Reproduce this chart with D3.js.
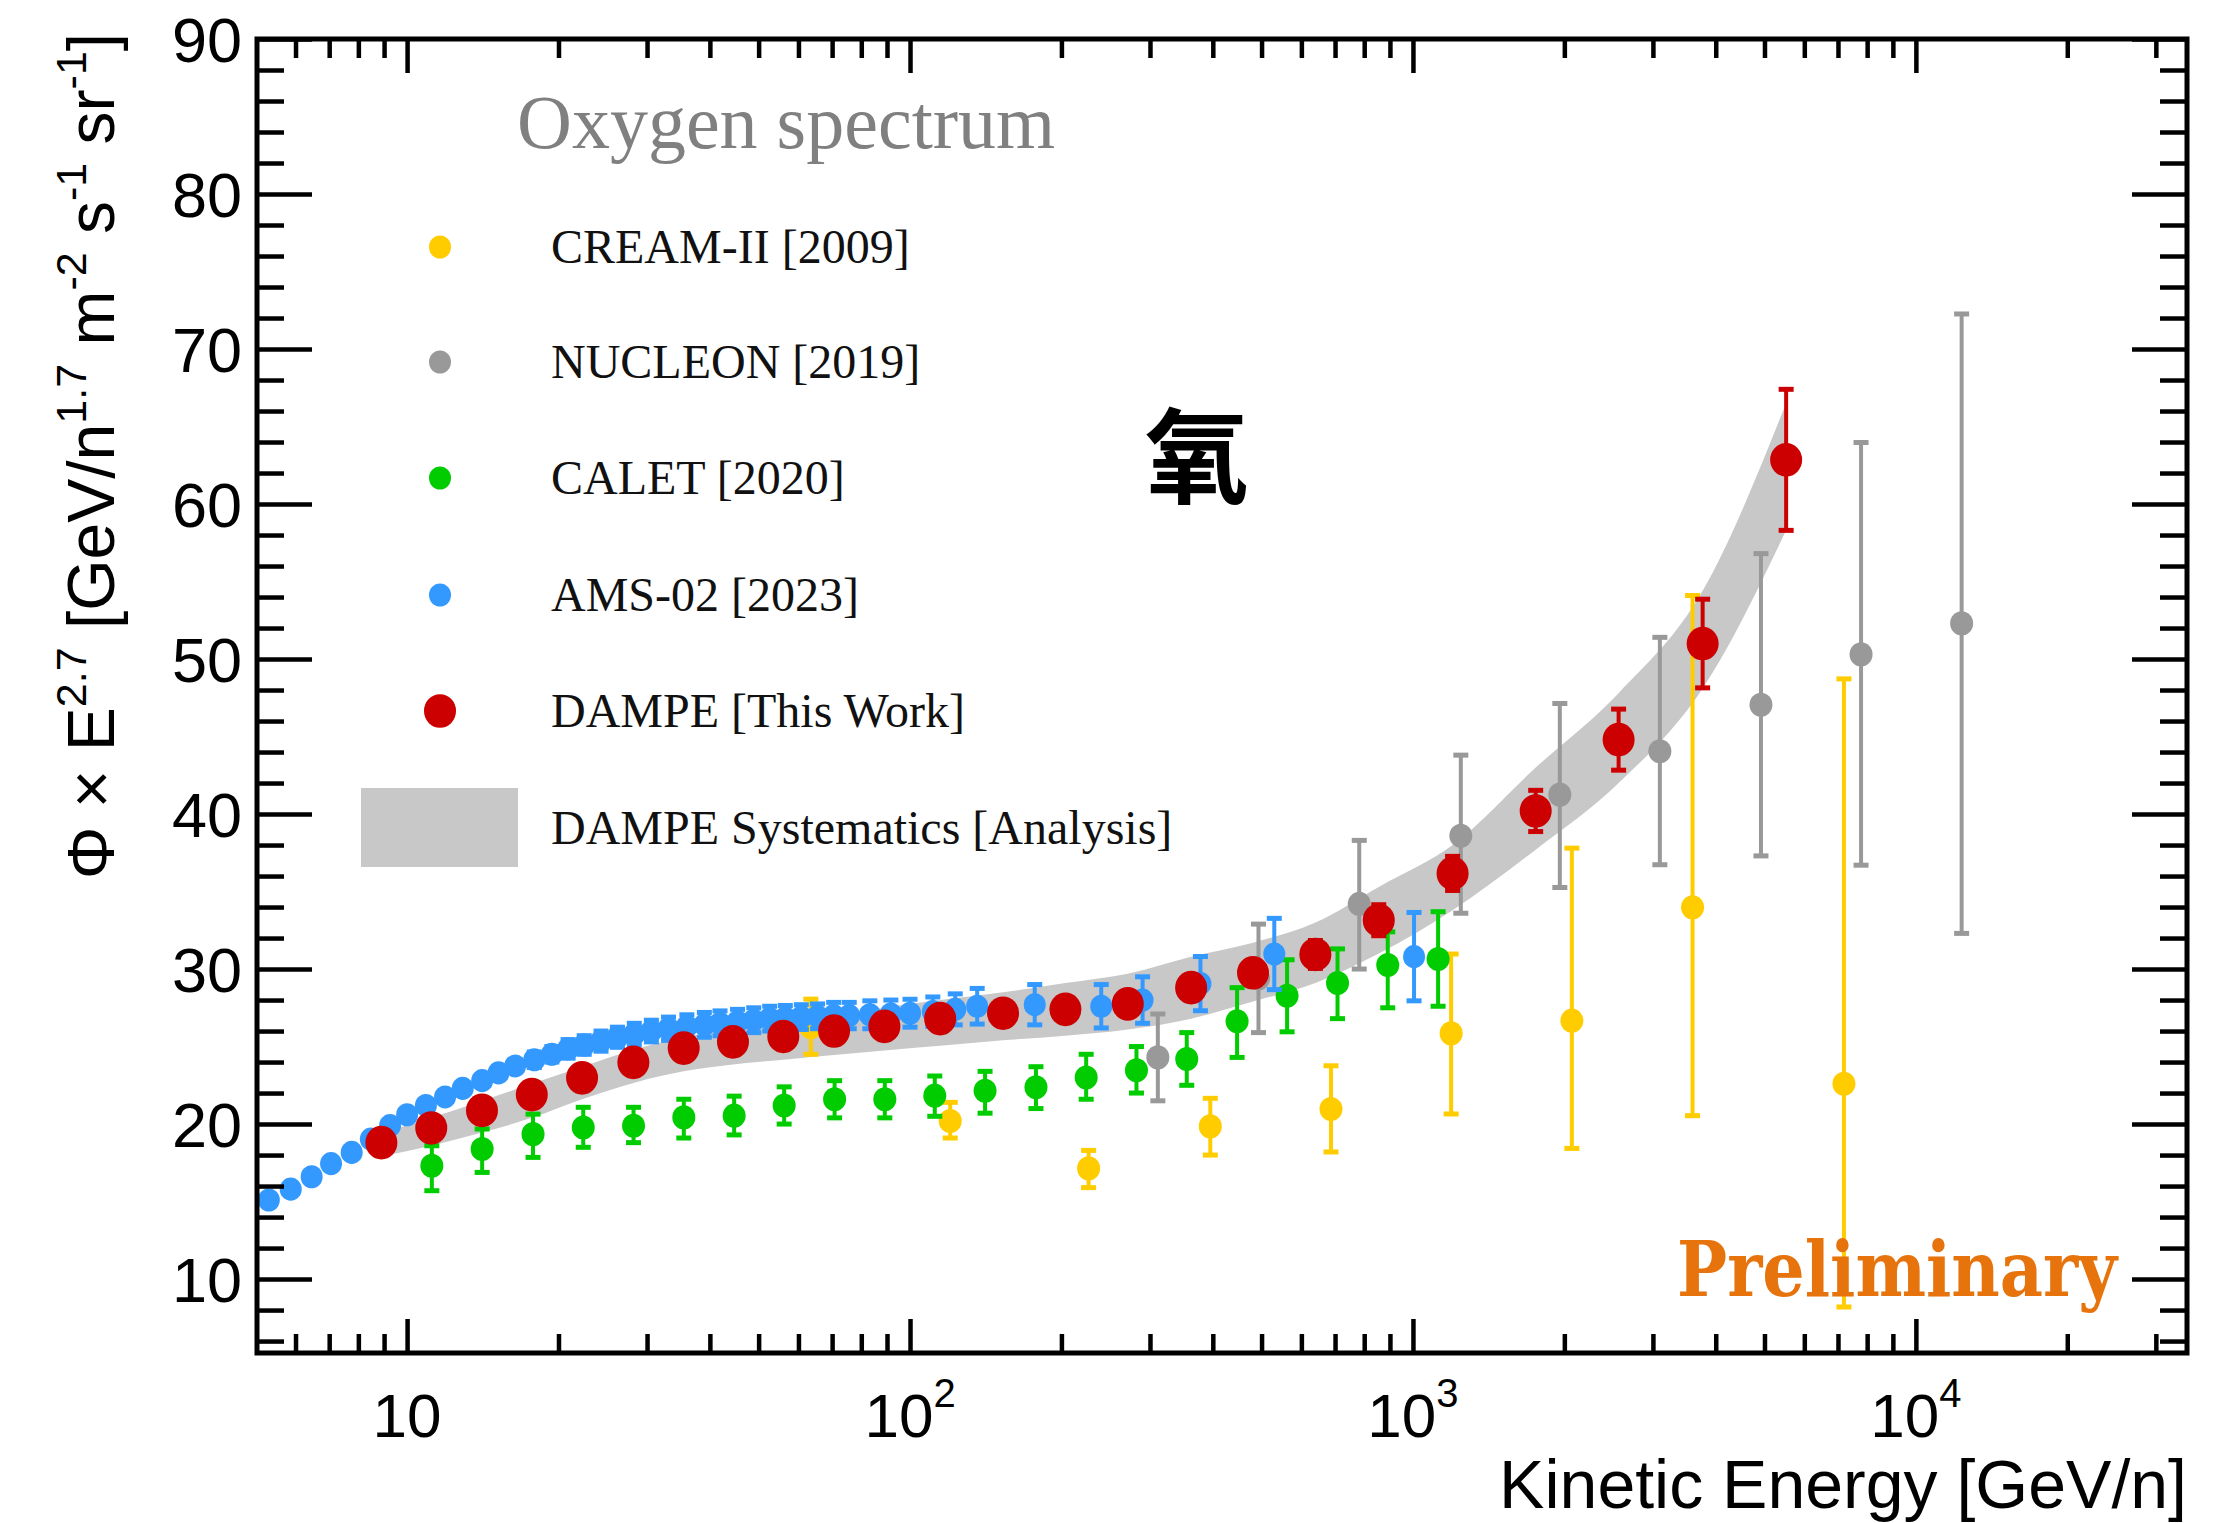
<!DOCTYPE html>
<html>
<head>
<meta charset="utf-8">
<script src="https://cdn.jsdelivr.net/npm/d3@7"></script>
<style>
  body { margin: 0; background: #fff; }
</style>
</head>
<body>
<div id="chart"></div>
<script>
// ---- data (E in GeV/n, flux x E^2.7) ----
const dampeE    = [8.89, 11.17, 14.09, 17.70, 22.28, 28.18, 35.48, 44.46, 55.98, 70.63, 88.92, 114.8, 153.1, 203.7, 271.0, 362.2, 480.8, 639.7, 855.1, 1199, 1754, 2564, 3767, 5521];
const dampeFlux = [18.8, 19.75, 20.88, 21.9, 22.98, 23.98, 24.9, 25.3, 25.65, 26.0, 26.3, 26.8, 27.15, 27.4, 27.75, 28.8, 29.76, 30.94, 33.15, 36.17, 40.2, 44.8, 51.0, 62.85];
const dampeErr  = [0.2, 0.2, 0.2, 0.2, 0.2, 0.2, 0.25, 0.25, 0.3, 0.3, 0.35, 0.4, 0.45, 0.5, 0.6, 0.7, 0.8, 0.9, 1.0, 1.1, 1.33, 1.97, 2.86, 4.55];
const bandLow   = [17.9, 18.6, 19.45, 20.4, 21.6, 22.65, 23.4, 23.85, 24.15, 24.45, 24.75, 25.05, 25.4, 25.7, 26.1, 26.8, 27.9, 29.1, 31.0, 33.8, 37.7, 42.0, 48.1, 58.3];
const bandHigh  = [19.4, 20.4, 21.5, 22.6, 23.7, 24.8, 25.6, 26.1, 26.5, 26.9, 27.5, 28.0, 28.5, 29.1, 29.7, 30.8, 31.7, 33.0, 35.3, 38.0, 43.0, 47.8, 54.4, 66.5];

const amsE    = [5.31, 5.87, 6.46, 7.06, 7.76, 8.47, 9.25, 10.0, 10.9, 11.9, 12.9, 14.1, 15.2, 16.4, 17.9, 19.4, 20.9, 22.5, 24.3, 26.2, 28.3, 30.6, 33.1, 36.0, 39.0, 41.9, 45.4, 48.9, 52.6, 56.5, 60.8, 65.5, 70.5, 75.7, 83.2, 91.6, 100, 111, 123, 136, 177, 240, 290, 378, 530, 1005];
const amsFlux = [15.1, 15.8, 16.6, 17.45, 18.17, 19.03, 19.9, 20.6, 21.2, 21.75, 22.3, 22.8, 23.3, 23.75, 24.15, 24.5, 24.85, 25.1, 25.35, 25.6, 25.8, 26.0, 26.15, 26.3, 26.4, 26.5, 26.6, 26.7, 26.8, 26.85, 26.9, 26.95, 27.0, 27.0, 27.05, 27.1, 27.15, 27.25, 27.4, 27.6, 27.7, 27.6, 28.0, 29.06, 30.97, 30.8];
const amsErr  = [0.25, 0.25, 0.25, 0.25, 0.25, 0.25, 0.25, 0.3, 0.3, 0.3, 0.35, 0.35, 0.4, 0.4, 0.5, 0.5, 0.6, 0.6, 0.65, 0.65, 0.7, 0.7, 0.75, 0.75, 0.8, 0.8, 0.8, 0.8, 0.8, 0.8, 0.8, 0.8, 0.85, 0.85, 0.9, 0.9, 0.9, 0.95, 1.0, 1.15, 1.3, 1.4, 1.5, 1.75, 2.3, 2.85];

const caletE    = [11.2, 14.1, 17.8, 22.4, 28.2, 35.5, 44.7, 56.2, 70.8, 89.1, 112, 141, 178, 224, 282, 355, 447, 562, 708, 891, 1122];
const caletFlux = [17.31, 18.39, 19.35, 19.78, 19.89, 20.43, 20.54, 21.2, 21.6, 21.6, 21.83, 22.15, 22.37, 23.0, 23.47, 24.2, 26.63, 28.28, 29.1, 30.26, 30.65];
const caletHi   = [18.6, 19.68, 20.64, 21.08, 21.08, 21.6, 21.8, 22.4, 22.8, 22.8, 23.1, 23.4, 23.7, 24.5, 25.0, 25.9, 28.8, 30.6, 31.3, 32.4, 33.7];
const caletLo   = [15.7, 16.88, 17.85, 18.5, 18.8, 19.1, 19.3, 20.0, 20.4, 20.4, 20.5, 20.7, 21.0, 21.6, 22.0, 22.5, 24.3, 25.95, 26.8, 27.5, 27.6];

const nucleonE    = [311, 493, 782, 1245, 1959, 3097, 4920, 7780, 12330];
const nucleonFlux = [24.3, 29.4, 34.2, 38.6, 41.25, 44.05, 47.05, 50.3, 52.3];
const nucleonHi   = [27.1, 32.9, 38.3, 43.8, 47.13, 51.4, 56.8, 63.97, 72.26];
const nucleonLo   = [21.5, 25.9, 30.0, 33.6, 35.26, 36.73, 37.3, 36.7, 32.3];

const creamE    = [63.5, 120.2, 226.5, 395.4, 687.1, 1191, 2070, 3597, 7194];
const creamFlux = [26.24, 20.2, 17.14, 19.85, 20.97, 25.85, 26.67, 33.98, 22.6];
const creamHi   = [28.06, 21.4, 18.3, 21.66, 23.76, 30.97, 37.8, 54.1, 48.72];
const creamLo   = [24.5, 19.1, 15.9, 18.0, 18.2, 20.65, 18.43, 20.54, 8.2];

const yTickLabels = [10, 20, 30, 40, 50, 60, 70, 80, 90];
const xTickLabels = [{v: 10, exp: ""}, {v: 100, exp: "2"}, {v: 1000, exp: "3"}, {v: 10000, exp: "4"}];

const legendItems = [
  {name: "CREAM-II [2009]", color: "#ffcc00", r: 11},
  {name: "NUCLEON [2019]", color: "#999999", r: 11},
  {name: "CALET [2020]", color: "#00cc00", r: 11},
  {name: "AMS-02 [2023]", color: "#3399ff", r: 11},
  {name: "DAMPE [This Work]", color: "#cc0000", r: 16},
  {name: "DAMPE Systematics [Analysis]", color: "#c8c8c8", band: true}
];

// ---- layout ----
const width = 2238;
const height = 1523;
const margin = { top: 39, right: 51, bottom: 170, left: 257 };
const x0 = margin.left, x1 = width - margin.right;
const y0 = height - margin.bottom, y1 = margin.top;

const svg = d3.select("#chart")
  .append("svg")
  .attr("width", width)
  .attr("height", height)
  .style("background", "#fff");

const x = d3.scaleLog().domain([5.03, 34600]).range([x0, x1]);
const y = d3.scaleLinear().domain([5.23, 90]).range([y0, y1]);

const sansFont = "'Liberation Sans', Arial, Helvetica, sans-serif";
const serifFont = "'Liberation Serif', 'Times New Roman', serif";

// ---- systematics band ----
const bandData = dampeE.map((e, i) => ({e, lo: bandLow[i], hi: bandHigh[i]}));
svg.append("path")
  .datum(bandData)
  .attr("fill", "#c8c8c8")
  .attr("d", d3.area()
    .curve(d3.curveMonotoneX)
    .x(d => x(d.e))
    .y0(d => y(d.lo))
    .y1(d => y(d.hi)));

// ---- error-bar series ----
function drawSeries(pts, color, r) {
  const g = svg.append("g");
  const capW = 15;
  pts.forEach(p => {
    const cx = x(p.e);
    g.append("line")
      .attr("x1", cx).attr("x2", cx)
      .attr("y1", y(p.hi)).attr("y2", y(p.lo))
      .attr("stroke", color).attr("stroke-width", 4);
    [p.hi, p.lo].forEach(v => {
      g.append("line")
        .attr("x1", cx - capW / 2).attr("x2", cx + capW / 2)
        .attr("y1", y(v)).attr("y2", y(v))
        .attr("stroke", color).attr("stroke-width", 5);
    });
  });
  g.selectAll("ellipse")
    .data(pts)
    .join("ellipse")
    .attr("cx", d => x(d.e))
    .attr("cy", d => y(d.v))
    .attr("rx", r)
    .attr("ry", r * 1.05)
    .attr("fill", color);
}

drawSeries(creamE.map((e, i) => ({e, v: creamFlux[i], hi: creamHi[i], lo: creamLo[i]})), "#ffcc00", 11.5);
drawSeries(nucleonE.map((e, i) => ({e, v: nucleonFlux[i], hi: nucleonHi[i], lo: nucleonLo[i]})), "#999999", 11.5);
drawSeries(caletE.map((e, i) => ({e, v: caletFlux[i], hi: caletHi[i], lo: caletLo[i]})), "#00cc00", 11.5);
drawSeries(amsE.map((e, i) => ({e, v: amsFlux[i], hi: amsFlux[i] + amsErr[i], lo: amsFlux[i] - amsErr[i]})), "#3399ff", 11);
drawSeries(dampeE.map((e, i) => ({e, v: dampeFlux[i], hi: dampeFlux[i] + dampeErr[i], lo: dampeFlux[i] - dampeErr[i]})), "#cc0000", 16);

// ---- axes / frame ----
const xMinor = [];
[1, 10, 100, 1000, 10000].forEach(d => {
  for (let k = 2; k <= 9; k++) {
    const v = d * k;
    if (v > 5.03 && v < 34600) xMinor.push(v);
  }
});
const xMajor = xTickLabels.map(d => d.v);
const yMajor = yTickLabels;
const yMinor = d3.range(6, 90, 2).filter(v => v % 10 !== 0);

function styleAxis(g) {
  g.select(".domain").remove();
  g.selectAll("line").attr("stroke", "#000").attr("stroke-width", 4.5);
  g.selectAll("text").remove();
}

svg.append("g").attr("transform", `translate(0,${y0})`)
  .call(d3.axisBottom(x).tickValues(xMinor).tickSize(-19)).call(styleAxis);
svg.append("g").attr("transform", `translate(0,${y0})`)
  .call(d3.axisBottom(x).tickValues(xMajor).tickSize(-34)).call(styleAxis);
svg.append("g").attr("transform", `translate(0,${y1})`)
  .call(d3.axisTop(x).tickValues(xMinor).tickSize(-19)).call(styleAxis);
svg.append("g").attr("transform", `translate(0,${y1})`)
  .call(d3.axisTop(x).tickValues(xMajor).tickSize(-34)).call(styleAxis);

svg.append("g").attr("transform", `translate(${x0},0)`)
  .call(d3.axisLeft(y).tickValues(yMinor).tickSize(-27)).call(styleAxis);
svg.append("g").attr("transform", `translate(${x0},0)`)
  .call(d3.axisLeft(y).tickValues(yMajor).tickSize(-55)).call(styleAxis);
svg.append("g").attr("transform", `translate(${x1},0)`)
  .call(d3.axisRight(y).tickValues(yMinor).tickSize(-27)).call(styleAxis);
svg.append("g").attr("transform", `translate(${x1},0)`)
  .call(d3.axisRight(y).tickValues(yMajor).tickSize(-55)).call(styleAxis);

svg.append("rect")
  .attr("x", x0).attr("y", y1)
  .attr("width", x1 - x0).attr("height", y0 - y1)
  .attr("fill", "none").attr("stroke", "#000").attr("stroke-width", 5);

// tick labels
svg.append("g").selectAll("text")
  .data(yTickLabels)
  .join("text")
  .attr("x", x0 - 15)
  .attr("y", d => y(d))
  .attr("dy", "0.36em")
  .attr("text-anchor", "end")
  .attr("font-family", sansFont)
  .attr("font-size", 63)
  .attr("fill", "#000")
  .text(d => d);

const xl = svg.append("g").selectAll("text")
  .data(xTickLabels)
  .join("text")
  .attr("x", d => x(d.v))
  .attr("y", 1437)
  .attr("text-anchor", "middle")
  .attr("font-family", sansFont)
  .attr("font-size", 62)
  .attr("fill", "#000");
xl.append("tspan").text("10");
xl.filter(d => d.exp !== "").append("tspan")
  .attr("font-size", 40)
  .attr("dy", -30)
  .text(d => d.exp);

// axis titles
svg.append("text")
  .attr("x", x1)
  .attr("y", 1508)
  .attr("text-anchor", "end")
  .attr("font-family", sansFont)
  .attr("font-size", 68)
  .attr("fill", "#000")
  .text("Kinetic Energy [GeV/n]");

const yt = svg.append("text")
  .attr("transform", "translate(114,456) rotate(-90)")
  .attr("text-anchor", "middle")
  .attr("font-family", sansFont)
  .attr("font-size", 66)
  .attr("fill", "#000");
const ytParts = [
  ["Φ × E", false], ["2.7", true], [" [GeV/n", false], ["1.7", true],
  ["  m", false], ["-2", true], [" s", false], ["-1", true],
  [" sr", false], ["-1", true], ["]", false]
];
let raised = false;
ytParts.forEach(([t, sup]) => {
  const ts = yt.append("tspan").text(t);
  if (sup) { ts.attr("font-size", 43).attr("dy", -28); raised = true; }
  else if (raised) { ts.attr("dy", 28); raised = false; }
});

// ---- legend ----
svg.append("text")
  .attr("x", 517)
  .attr("y", 148)
  .attr("font-family", serifFont)
  .attr("font-size", 76)
  .attr("fill", "#808080")
  .text("Oxygen spectrum");

const legendRows = [247, 362, 478, 595, 711, 828];
const lg = svg.append("g");
legendItems.forEach((d, i) => {
  const cy = legendRows[i];
  if (d.band) {
    lg.append("rect")
      .attr("x", 361).attr("y", cy - 40)
      .attr("width", 157).attr("height", 79)
      .attr("fill", d.color);
  } else {
    lg.append("ellipse")
      .attr("cx", 440).attr("cy", cy)
      .attr("rx", d.r).attr("ry", d.r * 1.05)
      .attr("fill", d.color);
  }
  lg.append("text")
    .attr("x", 551)
    .attr("y", cy + 16)
    .attr("font-family", serifFont)
    .attr("font-size", 48)
    .attr("fill", "#111")
    .text(d.name);
});

// ---- annotations ----
svg.append("text")
  .attr("x", 1197)
  .attr("y", 450)
  .attr("text-anchor", "middle")
  .attr("dominant-baseline", "central")
  .attr("font-family", "'Noto Sans CJK SC', sans-serif")
  .attr("font-weight", 700)
  .attr("font-size", 104)
  .attr("fill", "#000")
  .text("氧");

svg.append("text")
  .attr("x", 1677)
  .attr("y", 1296)
  .attr("font-family", "'DejaVu Serif', serif")
  .attr("font-weight", 700)
  .attr("font-size", 76)
  .attr("textLength", 440)
  .attr("lengthAdjust", "spacingAndGlyphs")
  .attr("fill", "#e6730b")
  .text("Preliminary");
</script>
</body>
</html>
